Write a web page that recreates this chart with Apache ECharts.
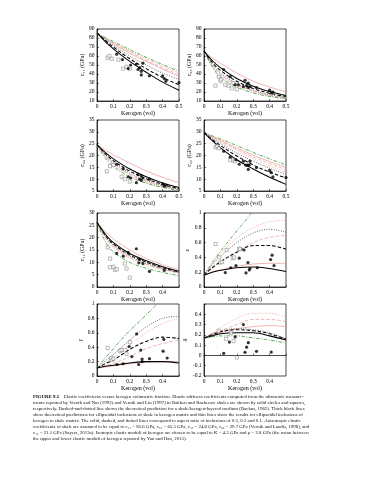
<!DOCTYPE html>
<html><head><meta charset="utf-8">
<script src="https://cdn.jsdelivr.net/npm/echarts@6/dist/echarts.min.js"></script>
<style>html,body{margin:0;padding:0;background:#fff}#c{width:370px;height:480px}</style>
</head><body><div id="c"></div>
<script>
// ---- data ----
const kerogen = [0, 0.05, 0.1, 0.2, 0.3, 0.4, 0.5];

// c11
const c11Thick = [[85.6,76,68,54,42,31,22],[85.6,77.5,70,57,46,36,28],[85.6,78.5,72,60,50,41,34]];
const c11Thin = [[85.6,79,73.5,63,54,45.5,37],[85.6,79.5,74.5,64.5,55.5,47,39],[85.6,80,75,65.5,57,49,41]];
const c11Backus = [85.6,80.5,76,67,58.5,50.5,43];
const c11Circles = [[0.12,62],[0.155,56],[0.19,46],[0.205,50],[0.24,51],[0.25,45],[0.26,47],[0.27,43],[0.27,39],[0.28,52],[0.32,38],[0.40,38],[0.41,35],[0.42,32],[0.50,30.5]];
const c11Squares = [[0.065,58],[0.075,60],[0.09,57],[0.13,56],[0.16,46],[0.18,48],[0.2,46]];

// c33
const c33Thick = [[65.5,55,47,35,26.5,20.5,16],[65.5,53,44,32,24,18.5,15],[65.5,51,41,29.5,22,17,14]];
const c33Thin = [[65.5,58,52,41,32,25.5,20],[65.5,50,39.5,28,21,16,13.5],[65.5,49,38,27,20,15.5,13]];
const c33Backus = [65.5,48,36.5,25.5,19,15,12.5];
const c33Circles = [[0.12,45],[0.16,37],[0.19,28],[0.21,28],[0.24,26],[0.25,33],[0.26,27],[0.27,30],[0.27,25],[0.28,26],[0.32,25],[0.40,22],[0.41,19],[0.42,20]];
const c33Squares = [[0.07,27],[0.09,37],[0.1,32],[0.105,34],[0.13,28],[0.15,27],[0.17,24],[0.2,23],[0.18,30]];

// c44
const c44Thick = [[24.6,21.3,18.6,14.3,11,8.4,6.5],[24.6,20.8,17.8,13.4,10.2,7.8,6],[24.6,20.3,17,12.6,9.5,7.3,5.7]];
const c44Thin = [[24.6,22.3,20.3,16.8,13.5,10.8,8.5],[24.6,19.8,16.4,12,9,7,5.5],[24.6,19.5,16,11.6,8.7,6.8,5.4]];
const c44Backus = [24.6,19,15.3,11,8.3,6.5,5.2];
const c44Circles = [[0.12,16.3],[0.16,14.3],[0.19,11],[0.205,10.5],[0.24,8.5],[0.25,12],[0.26,10],[0.27,9.5],[0.27,11.5],[0.28,10.5],[0.32,10],[0.40,8],[0.41,7],[0.42,7.5]];
const c44Squares = [[0.06,13.3],[0.08,15.5],[0.1,16],[0.15,11],[0.17,10],[0.2,9]];

// c66
const c66Thick = [[29.7,26.3,23.2,18.2,14.3,10.8,7.8],[29.7,26.8,24.2,19.8,16,13,10.5],[29.7,27.3,25,21,17.6,14.6,12]];
const c66Thin = [[29.7,28,26.4,23.2,20.2,17.4,15],[29.7,27.8,26,22.6,19.4,16.6,14],[29.7,27.6,25.6,21.9,18.6,15.6,13]];
const c66Backus = [29.7,28.3,27,24.2,21.3,18.6,16];
const c66Circles = [[0.12,21.8],[0.16,19.3],[0.195,18.2],[0.215,16.3],[0.24,17.6],[0.255,15.9],[0.265,15.9],[0.275,15.9],[0.27,14.1],[0.28,17.6],[0.32,14.9],[0.40,13.7],[0.41,12.8],[0.42,11],[0.50,10.7]];
const c66Squares = [[0.07,23.5],[0.08,24],[0.09,23],[0.16,18],[0.18,18],[0.19,17.5]];

// c12
const c12Thick = [[26.2,21.5,18,13.6,10.6,8.2,6.4],[26.2,21,17.4,13,10.1,7.8,6.1],[26.2,20.6,16.9,12.5,9.6,7.5,5.9]];
const c12Thin = [[26.2,22.5,19.5,15,11.6,9,7],[26.2,20.2,16.4,12,9.2,7.2,5.7],[26.2,20,16,11.7,9,7,5.6]];
const c12Backus = [26.2,18.5,14.2,10,7.6,5.9,4.6];
const c12Circles = [[0.12,13.6],[0.16,12.5],[0.19,14],[0.24,15.5],[0.26,11.2],[0.255,9.8],[0.28,9.5],[0.32,6.3],[0.41,6.7]];
const c12Squares = [[0.065,16],[0.08,11.5],[0.08,8],[0.1,8.2],[0.11,7],[0.12,7.2],[0.17,9.5],[0.18,7.5],[0.2,3.8]];

// epsilon
const epsThick = [[0.16,0.2,0.225,0.26,0.27,0.25,0.21],[0.16,0.26,0.34,0.47,0.56,0.56,0.51],[0.16,0.3,0.41,0.6,0.73,0.78,0.74]];
const epsThin = [[0.16,0.2,0.23,0.28,0.31,0.32,0.32],[0.16,0.25,0.33,0.48,0.6,0.67,0.7],[0.16,0.31,0.45,0.66,0.8,0.88,0.9]];
const epsBackusX = [0,0.05,0.1,0.15,0.2,0.25,0.29];
const epsBackus = [0.16,0.33,0.48,0.62,0.76,0.89,1.0];
const epsCircles = [[0.13,0.195],[0.163,0.26],[0.195,0.29],[0.215,0.39],[0.244,0.5],[0.256,0.19],[0.268,0.33],[0.276,0.23],[0.28,0.25],[0.325,0.26],[0.406,0.37],[0.415,0.43],[0.427,0.29]];
const epsSquares = [[0.071,0.58],[0.093,0.4],[0.1,0.33],[0.11,0.34],[0.138,0.5],[0.175,0.39],[0.183,0.4],[0.215,0.52],[0.22,0.51]];

// gamma
const gamThick = [[0.11,0.135,0.15,0.18,0.2,0.2,0.18],[0.11,0.17,0.22,0.37,0.48,0.54,0.52],[0.11,0.21,0.3,0.5,0.68,0.8,0.83]];
const gamThin = [[0.11,0.125,0.14,0.17,0.19,0.2,0.2],[0.11,0.14,0.17,0.27,0.38,0.45,0.5],[0.11,0.18,0.25,0.43,0.6,0.73,0.8]];
const gamBackusX = [0,0.05,0.1,0.15,0.2,0.25,0.3,0.366];
const gamBackus = [0.11,0.25,0.38,0.51,0.63,0.74,0.85,1.0];
const gamCircles = [[0.122,0.16],[0.159,0.17],[0.196,0.41],[0.213,0.27],[0.242,0.585],[0.254,0.16],[0.267,0.36],[0.275,0.235],[0.275,0.2],[0.32,0.24],[0.407,0.51],[0.403,0.345],[0.428,0.25]];
const gamSquares = [[0.065,0.39],[0.085,0.25],[0.09,0.22],[0.1,0.24],[0.14,0.35],[0.15,0.36],[0.17,0.36],[0.2,0.47],[0.18,0.31]];

// delta
const delThick = [[0.17,0.19,0.21,0.22,0.22,0.19,0.15],[0.17,0.2,0.23,0.25,0.24,0.21,0.16],[0.17,0.21,0.24,0.26,0.25,0.22,0.16]];
const delThin = [[0.17,0.2,0.22,0.26,0.28,0.29,0.28],[0.17,0.21,0.24,0.3,0.35,0.35,0.33],[0.17,0.22,0.27,0.36,0.41,0.41,0.37]];
const delBackus = [0.17,0.18,0.19,0.19,0.17,0.15,0.12];
const delCircles = [[0.12,0.02],[0.155,0.13],[0.19,0.18],[0.24,0.3],[0.25,0.03],[0.26,0.08],[0.27,0.124],[0.32,0.04],[0.41,0.033]];
const delSquares = [[0.09,0.24],[0.135,0.16],[0.18,0.14],[0.2,-0.02],[0.165,0.22]];

const captionLines = [
  "{b|FIGURE 9.1}    Elastic coefficients versus kerogen volumetric fraction. Elastic stiffness coefficients computed from the ultrasonic measure-",
  "ments reported by Vernik and Nur (1992) and Vernik and Liu (1997) in Bakken and Bazhenov shales are shown by solid circles and squares,",
  "respectively. Dashed-and-dotted line shows the theoretical prediction for a shale/kerogen-layered medium (Backus, 1962). Thick black lines",
  "show theoretical predictions for ellipsoidal inclusions of shale in kerogen matrix and thin lines show the results for ellipsoidal inclusions of",
  "kerogen in shale matrix. The solid, dashed, and dotted lines correspond to aspect ratio of inclusions of 0.5, 0.2 and 0.1. Anisotropic elastic",
  "coefficients of shale are assumed to be equal to c₁₁ = 85.6 GPa, c₃₃ = 65.5 GPa, c₄₄ = 24.6 GPa, c₆₆ = 29.7 GPa (Vernik and Landis, 1996), and",
  "c₁₃ = 21.1 GPa (Sayers, 2013a). Isotropic elastic moduli of kerogen are chosen to be equal to K = 4.3 GPa and μ = 2.8 GPa (the mean between",
  "the upper and lower elastic moduli of kerogen reported by Yan and Han, 2013)."
];

// ---- panels ----
const panels = [
  {yName:'c₁₁ (GPa)', min:10, max:90, step:10, thick:c11Thick, thin:c11Thin, bx:kerogen, by:c11Backus, circ:c11Circles, sq:c11Squares, hide05:false},
  {yName:'c₃₃ (GPa)', min:10, max:90, step:10, thick:c33Thick, thin:c33Thin, bx:kerogen, by:c33Backus, circ:c33Circles, sq:c33Squares, hide05:false},
  {yName:'c₄₄ (GPa)', min:5, max:35, step:5, thick:c44Thick, thin:c44Thin, bx:kerogen, by:c44Backus, circ:c44Circles, sq:c44Squares, hide05:false},
  {yName:'c₆₆ (GPa)', min:5, max:35, step:5, thick:c66Thick, thin:c66Thin, bx:kerogen, by:c66Backus, circ:c66Circles, sq:c66Squares, hide05:false},
  {yName:'c₁₂ (GPa)', min:0, max:30, step:5, thick:c12Thick, thin:c12Thin, bx:kerogen, by:c12Backus, circ:c12Circles, sq:c12Squares, hide05:true},
  {yName:'ε', min:0, max:1, step:0.2, thick:epsThick, thin:epsThin, bx:epsBackusX, by:epsBackus, circ:epsCircles, sq:epsSquares, hide05:true},
  {yName:'γ', min:0, max:1, step:0.2, thick:gamThick, thin:gamThin, bx:gamBackusX, by:gamBackus, circ:gamCircles, sq:gamSquares, hide05:true},
  {yName:'δ', min:-0.2, max:0.5, step:0.1, thick:delThick, thin:delThin, bx:kerogen, by:delBackus, circ:delCircles, sq:delSquares, hide05:true, hideTop:true}
];

const colLeft = [97, 204];
const rowTop = [29, 120, 213, 304];
const rowH = [72, 71, 74, 72];
const FONT = 'Liberation Serif';
const dashTypes = ['solid', [3.5, 2], [1, 1.4]];

const grids = [], xAxes = [], yAxes = [], series = [];
const pairs = (xa, ya) => xa.map((x, i) => [x, ya[i]]);
const fmtNum = (v, step) => {
  if (Math.abs(v) < 1e-9) return '0';
  return step < 1 ? String(+(+v).toFixed(1)) : String(Math.round(v));
};

panels.forEach((p, i) => {
  const col = i % 2, row = Math.floor(i / 2);
  grids.push({left: colLeft[col], top: rowTop[row], width: 82, height: rowH[row],
    show: true, borderColor: '#000', borderWidth: 0.7, backgroundColor: 'transparent', outerBoundsMode: 'none'});
  xAxes.push({type: 'value', gridIndex: i, min: 0, max: 0.5, interval: 0.1,
    name: 'Kerogen (vol)', nameLocation: 'middle', nameGap: 9,
    nameTextStyle: {fontFamily: FONT, fontSize: 6, color: '#000'},
    axisLine: {show: true, lineStyle: {color: '#000', width: 0.7}},
    axisTick: {show: true, inside: true, length: 2, lineStyle: {color: '#000', width: 0.5}},
    axisLabel: {fontFamily: FONT, fontSize: 5.5, color: '#000', margin: 2.5, showMaxLabel: true,
      formatter: v => (p.hide05 && v > 0.45) ? '' : fmtNum(v, 0.1)},
    splitLine: {show: false}});
  yAxes.push({type: 'value', gridIndex: i, min: p.min, max: p.max, interval: p.step,
    name: p.yName, nameLocation: 'middle', nameGap: p.step < 1 ? 12 : 11,
    nameTextStyle: {fontFamily: FONT, fontSize: 6, color: '#000', fontStyle: p.step < 1 ? 'italic' : 'normal'},
    axisLine: {show: true, lineStyle: {color: '#000', width: 0.7}},
    axisTick: {show: true, inside: true, length: 2, lineStyle: {color: '#000', width: 0.5}},
    axisLabel: {fontFamily: FONT, fontSize: 5.5, color: '#000', margin: 2.5,
      formatter: v => (p.hideTop && v > p.max - 1e-6) ? '' : fmtNum(v, p.step)},
    splitLine: {show: false}});
  const lineBase = {xAxisIndex: i, yAxisIndex: i, type: 'line', showSymbol: false, symbol: 'none', smooth: 0.35, clip: true, silent: true, animation: false};
  p.thin.forEach((arr, k) => series.push(Object.assign({}, lineBase, {data: pairs(kerogen, arr), z: 2,
    lineStyle: {color: '#e58585', width: 0.6, type: dashTypes[k]}})));
  series.push(Object.assign({}, lineBase, {data: pairs(p.bx, p.by), z: 3,
    lineStyle: {color: '#4aa24a', width: 0.9, type: [3.5, 1.5, 1, 1.5]}}));
  p.thick.forEach((arr, k) => series.push(Object.assign({}, lineBase, {data: pairs(kerogen, arr), z: 4,
    lineStyle: {color: k === 2 ? '#444' : '#000', width: k === 2 ? 0.8 : 1.05, type: dashTypes[k]}})));
  series.push({type: 'scatter', xAxisIndex: i, yAxisIndex: i, data: p.sq, symbol: 'rect', symbolSize: 3.2, z: 5, animation: false,
    itemStyle: {color: '#fff', borderColor: '#666', borderWidth: 0.55}});
  series.push({type: 'scatter', xAxisIndex: i, yAxisIndex: i, data: p.circ, symbol: 'circle', symbolSize: 3.2, z: 6, animation: false,
    itemStyle: {color: '#000'}});
});

const graphic = captionLines.map((t, k) => ({
  type: 'text', left: 33, top: 394 + k * 6.05, silent: true,
  style: {text: t, fontFamily: FONT, fontSize: 4.85, fill: '#111',
    rich: {b: {fontFamily: FONT, fontSize: 4.85, fontWeight: 'bold', fill: '#000'}}}
}));

const chart = echarts.init(document.getElementById('c'), null, {renderer: 'canvas'});
chart.setOption({animation: false, backgroundColor: '#fff', grid: grids, xAxis: xAxes, yAxis: yAxes, series, graphic});
</script></body></html>
